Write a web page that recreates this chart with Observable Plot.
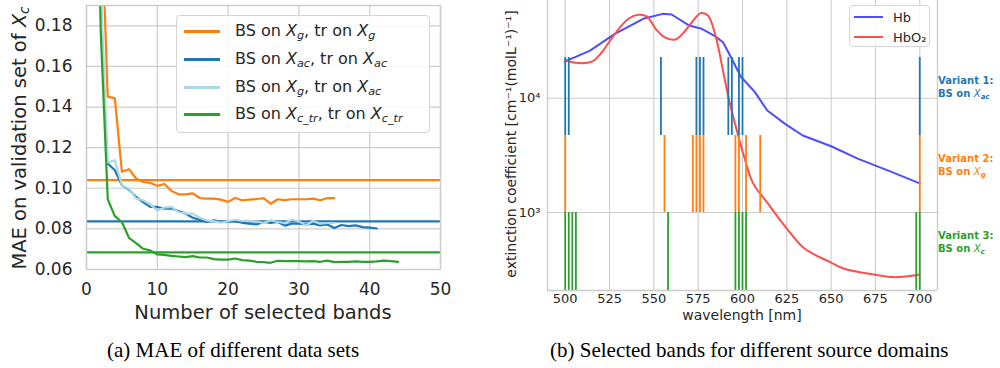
<!DOCTYPE html>
<html>
<head>
<meta charset="utf-8">
<script src="https://cdn.jsdelivr.net/npm/d3@7"></script>
<script src="https://cdn.jsdelivr.net/npm/@observablehq/plot@0.6"></script>
<style>
  html, body { margin: 0; padding: 0; background: #fff; }
  body { width: 1000px; height: 368px; position: relative; overflow: hidden; font-family: "DejaVu Sans", sans-serif; color: #262626; }
  #left { position: absolute; left: 0; top: 0; }
  #right { position: absolute; left: 490px; top: 0; }
  .leg { position: absolute; box-sizing: border-box; border: 1px solid #d5d5d5; border-radius: 4px; background: rgba(255,255,255,0.85); }
  .row { position: absolute; left: 0; height: 0; }
  .sw { position: absolute; top: -1px; }
  .lt { position: absolute; white-space: nowrap; transform: translateY(-50%); line-height: 1; }
  sub { font-size: 70%; vertical-align: -0.3em; line-height: 0; font-style: italic; }
  .ann { position: absolute; left: 938px; font: bold 10px "DejaVu Sans", sans-serif; line-height: 13px; white-space: nowrap; }
  .ann i { font-weight: normal; }
  .cap { position: absolute; top: 340px; font-family: "Liberation Serif", serif; font-size: 21px; line-height: 20px; color: #000; white-space: nowrap; }
</style>
</head>
<body>
<div id="left"></div>
<div id="right"></div>

<div class="leg" style="left:176px;top:15px;width:254px;height:118px;font-size:16px;">
  <div class="row" style="top:15px"><span class="sw" style="left:7px;width:36px;height:2.5px;background:#ff7f0e"></span><span class="lt" style="left:58px">BS on <i>X</i><sub>g</sub>, tr on <i>X</i><sub>g</sub></span></div>
  <div class="row" style="top:43px"><span class="sw" style="left:7px;width:36px;height:2.5px;background:#1f77b4"></span><span class="lt" style="left:58px">BS on <i>X</i><sub>ac</sub>, tr on <i>X</i><sub>ac</sub></span></div>
  <div class="row" style="top:71px"><span class="sw" style="left:7px;width:36px;height:2.5px;background:#add8e6"></span><span class="lt" style="left:58px">BS on <i>X</i><sub>g</sub>, tr on <i>X</i><sub>ac</sub></span></div>
  <div class="row" style="top:98px"><span class="sw" style="left:7px;width:36px;height:2.5px;background:#2ca02c"></span><span class="lt" style="left:58px">BS on <i>X</i><sub>c_tr</sub>, tr on <i>X</i><sub>c_tr</sub></span></div>
</div>

<div class="leg" style="left:849px;top:5px;width:81px;height:42px;font-size:13px;">
  <div class="row" style="top:11px"><span class="sw" style="left:4px;width:29px;height:2px;background:#4d4dff"></span><span class="lt" style="left:43px">Hb</span></div>
  <div class="row" style="top:31px"><span class="sw" style="left:4px;width:29px;height:2px;background:#ff4d4d"></span><span class="lt" style="left:43px">HbO₂</span></div>
</div>

<div class="ann" style="top:73.5px;color:#1f77b4">Variant 1:<br>BS on <i>X</i><sub>ac</sub></div>
<div class="ann" style="top:151.5px;color:#ff7f0e">Variant 2:<br>BS on <i>X</i><sub>g</sub></div>
<div class="ann" style="top:228.5px;color:#2ca02c">Variant 3:<br>BS on <i>X</i><sub>c</sub></div>

<div class="cap" style="left:107px">(a) MAE of different data sets</div>
<div class="cap" style="left:550px">(b) Selected bands for different source domains</div>

<script>
// ---------- Panel (a) data ----------
const bandCountTicks = [0, 10, 20, 30, 40, 50];
const maeTicks = [0.06, 0.08, 0.10, 0.12, 0.14, 0.16, 0.18];

// BS on X_g, tr on X_g (number of bands 2..35)
const nG = d3.range(2, 36);
const maeG = [0.245, 0.1451, 0.1443, 0.1081, 0.1094, 0.1048, 0.1031, 0.1026, 0.1012, 0.1021,
  0.0987, 0.0970, 0.0970, 0.0975, 0.0952, 0.0949, 0.0949, 0.0944, 0.0933, 0.0952,
  0.0941, 0.0944, 0.0947, 0.0951, 0.0924, 0.0946, 0.0942, 0.0946, 0.0946, 0.0946,
  0.0949, 0.0941, 0.0951, 0.0951];

// BS on X_ac, tr on X_ac (3..41)
const nAc = d3.range(3, 42);
const maeAc = [0.1122, 0.1089, 0.1015, 0.0993, 0.0957, 0.0932, 0.0908, 0.0908, 0.0900, 0.0900,
  0.0888, 0.0875, 0.0855, 0.0845, 0.0834, 0.0842, 0.0834, 0.0837, 0.0837, 0.0830,
  0.0826, 0.0822, 0.0834, 0.0829, 0.0834, 0.0816, 0.0826, 0.0826, 0.0822, 0.0826,
  0.0817, 0.0822, 0.0804, 0.0819, 0.0814, 0.0817, 0.0809, 0.0806, 0.0802];

// BS on X_g, tr on X_ac (2..35)
const nGAc = d3.range(2, 36);
const maeGAc = [0.200, 0.1127, 0.1138, 0.1015, 0.0998, 0.0949, 0.0941, 0.0921, 0.0891, 0.0905,
  0.0908, 0.0883, 0.0875, 0.0875, 0.0855, 0.0842, 0.0837, 0.0830, 0.0839, 0.0845,
  0.0839, 0.0839, 0.0837, 0.0829, 0.0842, 0.0834, 0.0829, 0.0845, 0.0837, 0.0817,
  0.0839, 0.0826, 0.0829, 0.0829];

// BS on X_c_tr, tr on X_c_tr (1..44)
const nCtr = d3.range(1, 45);
const maeCtr = [0.350, 0.178, 0.0946, 0.0863, 0.0834, 0.0756, 0.0730, 0.0702, 0.0694, 0.0674,
  0.0672, 0.0667, 0.0664, 0.0661, 0.0666, 0.0659, 0.0659, 0.0651, 0.0649, 0.0649,
  0.0654, 0.0646, 0.0644, 0.0638, 0.0636, 0.0633, 0.0643, 0.0641, 0.0641, 0.0641,
  0.0640, 0.0641, 0.0638, 0.0644, 0.0636, 0.0638, 0.0638, 0.0640, 0.0638, 0.0638,
  0.0640, 0.0644, 0.0641, 0.0638];

// all-band baselines
const baseG = 0.1040, baseAc = 0.0837, baseCtr = 0.0684;

// ---------- Panel (b) data ----------
const wlTicks = [500, 525, 550, 575, 600, 625, 650, 675, 700];
const extTicks = [1000, 10000];

const hbWl = [500, 514, 528, 544, 555, 560, 570, 577, 584, 589, 593.5, 599, 607, 614, 624, 634, 650, 665, 684, 700];
const hbExt = [21000, 26100, 36500, 49500, 54700, 54000, 43200, 40500, 35300, 30900, 22800, 15500, 11300, 7800, 5970, 4720, 3800, 2960, 2270, 1800];

const hbo2Wl = [500, 506, 515, 520, 528, 535, 541, 546, 551, 556, 562, 567, 573, 576.5, 580.5, 585, 589, 592.5, 596, 601, 606, 614, 625, 635, 650, 657, 674, 686, 700];
const hbo2Ext = [21600, 20400, 20900, 24500, 36500, 48600, 53600, 52000, 40500, 34200, 32600, 37800, 49500, 55500, 53000, 34200, 17400, 9540, 5800, 3050, 1800, 1220, 725, 484, 365, 324, 287, 272, 287];

// selected bands (nm)
const variant1 = [500, 502, 554, 574, 576, 578, 592, 594, 598, 600, 700]; // BS on X_ac
const variant2 = [500, 556, 572, 574, 576, 578, 596, 598, 602, 610, 700]; // BS on X_g
const variant3 = [500, 502, 504, 506, 558, 596, 598, 600, 602, 698, 700]; // BS on X_c
// vertical extent of each variant's tick band (extinction units)
const variant1Range = [4720, 22700];
const variant2Range = [1000, 4720];
const variant3Range = [208, 1000];

const extDomain = [208, 71600];
const wlDomain = [490, 710];

// ---------- Build panel (a) ----------
const pts = (xs, ys) => xs.map((x, i) => ({x, y: ys[i]}));
const grid = "#cccccc";

const left = Plot.plot({
  width: 490, height: 325,
  marginLeft: 86, marginRight: 50, marginTop: 5, marginBottom: 56,
  style: {fontFamily: "DejaVu Sans", fontSize: "17px", color: "#262626", background: "transparent", overflow: "visible"},
  x: {domain: [0, 50]},
  y: {domain: [0.06, 0.19]},
  marks: [
    Plot.gridX(bandCountTicks, {stroke: grid, strokeOpacity: 1, strokeWidth: 1.2}),
    Plot.gridY(maeTicks, {stroke: grid, strokeOpacity: 1, strokeWidth: 1.2}),
    Plot.axisX(bandCountTicks, {tickSize: 0, tickPadding: 13, label: null, fontSize: 17, fill: "#262626"}),
    Plot.axisY(maeTicks, {tickSize: 0, tickPadding: 14, label: null, tickFormat: d3.format(".2f"), fontSize: 17, fill: "#262626"}),
    Plot.ruleY([baseG], {stroke: "#ff7f0e", strokeWidth: 2.2}),
    Plot.ruleY([baseAc], {stroke: "#1f77b4", strokeWidth: 2.2}),
    Plot.ruleY([baseCtr], {stroke: "#2ca02c", strokeWidth: 2.2}),
    Plot.line(pts(nG, maeG), {x: "x", y: "y", stroke: "#ff7f0e", strokeWidth: 2.2, clip: true}),
    Plot.line(pts(nAc, maeAc), {x: "x", y: "y", stroke: "#1f77b4", strokeWidth: 2.2, clip: true}),
    Plot.line(pts(nGAc, maeGAc), {x: "x", y: "y", stroke: "#add8e6", strokeWidth: 2.2, clip: true}),
    Plot.line(pts(nCtr, maeCtr), {x: "x", y: "y", stroke: "#2ca02c", strokeWidth: 2.2, clip: true}),
    Plot.frame({stroke: grid, strokeWidth: 1.4})
  ]
});
document.getElementById("left").appendChild(left);

{
  const s = d3.select(left);
  s.append("text")
    .attr("x", 263).attr("y", 312)
    .attr("text-anchor", "middle").attr("dominant-baseline", "central")
    .attr("font-family", "DejaVu Sans").attr("font-size", 19.5).attr("fill", "#262626")
    .text("Number of selected bands");
  const t = s.append("text")
    .attr("transform", "translate(19,138) rotate(-90)")
    .attr("text-anchor", "middle").attr("dominant-baseline", "central")
    .attr("font-family", "DejaVu Sans").attr("font-size", 19.5).attr("fill", "#262626");
  t.append("tspan").text("MAE on validation set of ");
  t.append("tspan").attr("font-style", "italic").text("X");
  t.append("tspan").attr("font-style", "italic").attr("font-size", "0.7em").attr("dy", "0.35em").text("c");
}

// ---------- Build panel (b) ----------
const supFmt = d => "10" + (d === 1000 ? "³" : "⁴");
const right = Plot.plot({
  width: 510, height: 325,
  marginLeft: 57, marginRight: 63, marginTop: 0, marginBottom: 35,
  style: {fontFamily: "DejaVu Sans", fontSize: "13px", color: "#262626", background: "transparent", overflow: "visible"},
  x: {domain: wlDomain},
  y: {type: "log", domain: extDomain},
  marks: [
    Plot.gridX(wlTicks, {stroke: grid, strokeOpacity: 1, strokeWidth: 1.1}),
    Plot.gridY(extTicks, {stroke: grid, strokeOpacity: 1, strokeWidth: 1.1}),
    Plot.axisX(wlTicks, {tickSize: 0, tickPadding: 3, label: null, fontSize: 13, fill: "#262626"}),
    Plot.axisY(extTicks, {tickSize: 0, tickPadding: 7, label: null, tickFormat: supFmt, fontSize: 13, fill: "#262626"}),
    Plot.line(pts(hbWl, hbExt), {x: "x", y: "y", stroke: "#4d4dff", strokeWidth: 2, clip: true}),
    Plot.line(pts(hbo2Wl, hbo2Ext), {x: "x", y: "y", stroke: "#ff4d4d", strokeWidth: 2, curve: "catmull-rom", clip: true}),
    Plot.ruleX(variant1, {x: d => d, y1: variant1Range[0], y2: variant1Range[1], stroke: "#1f77b4", strokeWidth: 1.8}),
    Plot.ruleX(variant2, {x: d => d, y1: variant2Range[0], y2: variant2Range[1], stroke: "#ff7f0e", strokeWidth: 1.8}),
    Plot.ruleX(variant3, {x: d => d, y1: variant3Range[0], y2: variant3Range[1], stroke: "#2ca02c", strokeWidth: 1.8}),
    Plot.ruleX(wlDomain, {stroke: grid, strokeWidth: 1.4}),
    Plot.ruleY([extDomain[0]], {stroke: grid, strokeWidth: 1.4})
  ]
});
document.getElementById("right").appendChild(right);

{
  const s = d3.select(right);
  s.append("text")
    .attr("x", 252).attr("y", 315)
    .attr("text-anchor", "middle").attr("dominant-baseline", "central")
    .attr("font-family", "DejaVu Sans").attr("font-size", 14).attr("fill", "#262626")
    .text("wavelength [nm]");
  s.append("text")
    .attr("transform", "translate(21,144) rotate(-90)")
    .attr("text-anchor", "middle").attr("dominant-baseline", "central")
    .attr("font-family", "DejaVu Sans").attr("font-size", 14).attr("fill", "#262626")
    .text("extinction coefficient [cm⁻¹(molL⁻¹)⁻¹]");
}
</script>
</body>
</html>
